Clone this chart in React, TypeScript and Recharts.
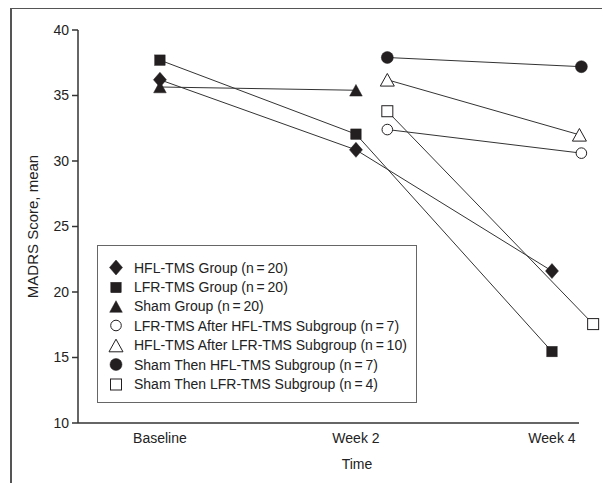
import React from "react";
import { LineChart, Line, XAxis, YAxis, ReferenceLine } from "recharts";

const FONT = '"Liberation Sans Narrow", "Arial Narrow", "Liberation Sans", sans-serif';
const INK = "#231f20";

// time axis: 0 = Baseline, 1 = Week 2, 2 = Week 4
const timeTicks = [0, 1, 2];
const timeLabels = ["Baseline", "Week 2", "Week 4"];
const yTicks = [10, 15, 20, 25, 30, 35, 40];

const groupTimes = [0, 1, 2];
const hflGroup = [36.2, 30.85, 21.6];
const lfrGroup = [37.7, 32.05, 15.45];
const shamGroup = [35.65, 35.4];

// subgroups are plotted a bit to the right of week 2 / week 4
const lfrAfterHflTimes = [1.16, 2.15];
const lfrAfterHfl = [32.4, 30.6];
const hflAfterLfrTimes = [1.16, 2.14];
const hflAfterLfr = [36.2, 32.0];
const shamThenHflTimes = [1.16, 2.15];
const shamThenHfl = [37.9, 37.2];
const shamThenLfrTimes = [1.16, 2.21];
const shamThenLfr = [33.8, 17.55];

const toRows = (xs: number[], ys: number[]) => ys.map((y, i) => ({ t: xs[i], y }));

const series = [
  { name: "HFL-TMS Group (n\u2009=\u200920)", shape: "diamond", filled: true, data: toRows(groupTimes, hflGroup) },
  { name: "LFR-TMS Group (n\u2009=\u200920)", shape: "square", filled: true, data: toRows(groupTimes, lfrGroup) },
  { name: "Sham Group (n\u2009=\u200920)", shape: "triangle", filled: true, data: toRows(groupTimes, shamGroup) },
  { name: "LFR-TMS After HFL-TMS Subgroup (n\u2009=\u20097)", shape: "circle", filled: false, data: toRows(lfrAfterHflTimes, lfrAfterHfl) },
  { name: "HFL-TMS After LFR-TMS Subgroup (n\u2009=\u200910)", shape: "triangle", filled: false, data: toRows(hflAfterLfrTimes, hflAfterLfr) },
  { name: "Sham Then HFL-TMS Subgroup (n\u2009=\u20097)", shape: "circle", filled: true, data: toRows(shamThenHflTimes, shamThenHfl) },
  { name: "Sham Then LFR-TMS Subgroup (n\u2009=\u20094)", shape: "square", filled: false, data: toRows(shamThenLfrTimes, shamThenLfr) },
];

function Marker({ shape, filled, cx, cy }: { shape: string; filled: boolean; cx: number; cy: number }) {
  const fill = filled ? INK : "#fff";
  const sw = filled ? 0.5 : 1;
  if (shape === "diamond")
    return <polygon points={`${cx},${cy - 7.5} ${cx + 6.5},${cy} ${cx},${cy + 7.5} ${cx - 6.5},${cy}`} fill={fill} stroke={INK} strokeWidth={sw} />;
  if (shape === "square") {
    const h = filled ? 5.2 : 5.5;
    return <rect x={cx - h} y={cy - h} width={h * 2} height={h * 2} fill={fill} stroke={INK} strokeWidth={sw} />;
  }
  if (shape === "triangle") {
    const w = filled ? 6.3 : 7;
    const h = filled ? 5.8 : 6.3;
    return <polygon points={`${cx},${cy - h} ${cx + w},${cy + h} ${cx - w},${cy + h}`} fill={fill} stroke={INK} strokeWidth={sw} />;
  }
  return <circle cx={cx} cy={cy} r={filled ? 6 : 5.3} fill={fill} stroke={INK} strokeWidth={sw} />;
}

function Legend() {
  return (
    <div
      style={{
        position: "absolute",
        left: 89,
        top: 237,
        width: 320,
        height: 158,
        border: "1.5px solid #666",
        background: "#fff",
        paddingTop: 12,
        boxSizing: "border-box",
      }}
    >
      {series.map((s) => (
        <div key={s.name} style={{ display: "flex", alignItems: "center", height: 19.4 }}>
          <svg width={36} height={19} style={{ flex: "none" }}>
            <Marker shape={s.shape} filled={s.filled} cx={18} cy={9.5} />
          </svg>
          <span style={{ fontSize: 14, color: "#222", whiteSpace: "nowrap" }}>{s.name}</span>
        </div>
      ))}
    </div>
  );
}

export default function App() {
  return (
    <div style={{ position: "relative", width: 602, height: 475, fontFamily: FONT }}>
      <div
        style={{
          position: "absolute",
          left: 2,
          top: -1,
          width: 600,
          height: 476,
          borderTop: "2px solid #555",
          borderLeft: "2px solid #555",
          boxSizing: "border-box",
        }}
      />
      <LineChart width={602} height={475} margin={{ top: 22, right: 10, left: 0, bottom: 0 }}>
        <XAxis
          type="number"
          dataKey="t"
          domain={[-0.418, 2.245]}
          ticks={timeTicks}
          tickFormatter={(v: number) => timeLabels[v]}
          axisLine={false}
          tickLine={false}
          tickSize={0}
          tickMargin={10}
          height={60}
          tick={{ fontSize: 14, fill: "#222", fontFamily: FONT }}
          label={{ value: "Time", position: "insideBottom", offset: 14, dx: 18, fontSize: 14, fill: "#222", fontFamily: FONT }}
        />
        <YAxis
          type="number"
          domain={[10, 40]}
          ticks={yTicks}
          width={70}
          axisLine={{ stroke: "#333", strokeWidth: 1.5 }}
          tickLine={{ stroke: "#333", strokeWidth: 1.5 }}
          tickSize={6}
          tickMargin={3}
          tick={{ fontSize: 14, fill: "#222", fontFamily: FONT }}
          label={{ value: "MADRS Score, mean", angle: -90, position: "center", dx: -10, fontSize: 15, fill: "#222", fontFamily: FONT }}
        />
        <ReferenceLine
          segment={[
            { x: -0.418, y: 10 },
            { x: 2.138, y: 10 },
          ]}
          stroke="#333"
          strokeWidth={1.5}
        />
        {series.map((s) => (
          <Line
            key={s.name}
            data={s.data}
            dataKey="y"
            name={s.name}
            stroke="#333"
            strokeWidth={1}
            isAnimationActive={false}
            dot={(p: any) => <Marker key={`${s.name}-${p.index}`} shape={s.shape} filled={s.filled} cx={p.cx} cy={p.cy} />}
            activeDot={false}
          />
        ))}
      </LineChart>
      <Legend />
    </div>
  );
}
